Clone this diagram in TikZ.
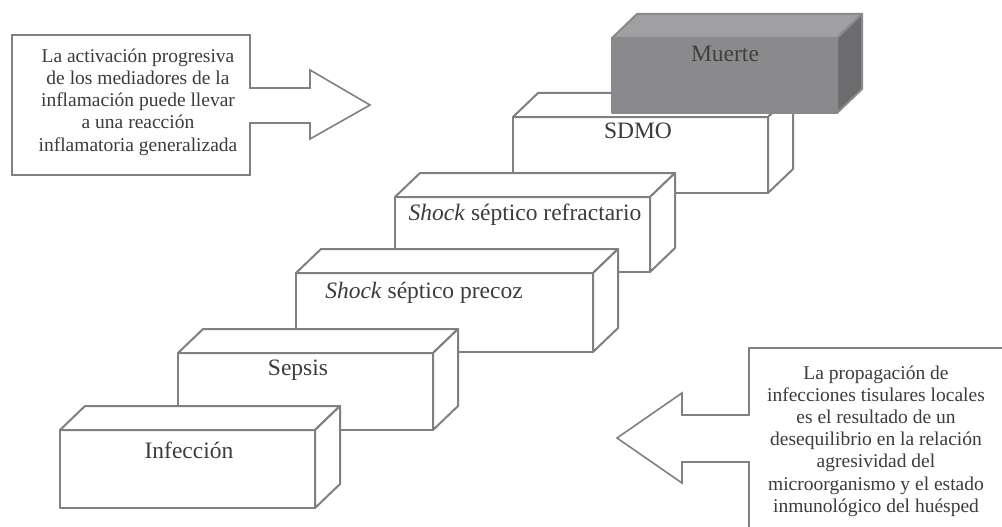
\documentclass[tikz,border=0pt]{standalone}
\usepackage{fontspec}
\setmainfont{Liberation Serif}
\usetikzlibrary{calc}
\definecolor{edgegray}{RGB}{128,128,128}
\definecolor{txtgray}{RGB}{60,60,60}
\definecolor{mfront}{RGB}{138,138,140}
\definecolor{mtop}{RGB}{160,160,162}
\definecolor{mside}{RGB}{108,108,110}
\tikzset{
  cubeline/.style={draw=edgegray, line width=2pt, line join=round},
  boxlabel/.style={text=txtgray, font=\fontsize{23.5}{26}\selectfont, inner sep=0pt, text height=0.7em, text depth=0.2em, anchor=center},
  callout/.style={draw=edgegray, line width=1.6pt, line join=miter},
  callouttext/.style={text=txtgray, font=\fontsize{19.5}{22.2}\selectfont, align=center, inner sep=0pt, anchor=center}
}
% #1 x1, #2 y1 (top), #3 x2, #4 y2 (bottom), #5 front fill, #6 top fill, #7 side fill, #8 edge colour
\newcommand\mycube[8]{%
  \filldraw[cubeline, draw=#8, fill=#5] (#1,#2) rectangle (#3,#4);
  \filldraw[cubeline, draw=#8, fill=#6] (#1,#2) -- ($(#1,#2)+(25,-24)$) -- ($(#3,#2)+(25,-24)$) -- (#3,#2) -- cycle;
  \filldraw[cubeline, draw=#8, fill=#7] (#3,#2) -- ($(#3,#2)+(25,-24)$) -- ($(#3,#4)+(25,-24)$) -- (#3,#4) -- cycle;
}
\begin{document}
\begin{tikzpicture}[x=1pt, y=-1pt]
\useasboundingbox[fill=white] (0,0) rectangle (1002,527);

% staircase, drawn from the back to the front
\mycube{513}{117}{768}{193}{white}{white}{white}{edgegray}
\node[boxlabel] (sdmo) at (638,136) {SDMO};

\mycube{612}{38}{837}{113}{mfront}{mtop}{mside}{mfront}
\node[boxlabel, text=black!75] (muerte) at (725,59) {Muerte};

\mycube{395}{197}{650}{272}{white}{white}{white}{edgegray}
\node[boxlabel] (refr) at (525,218) {\textit{Shock} séptico refractario};

\mycube{296}{273}{593}{352}{white}{white}{white}{edgegray}
\node[boxlabel] (precoz) at (424,296) {\textit{Shock} séptico precoz};

\mycube{178}{353}{433}{430}{white}{white}{white}{edgegray}
\node[boxlabel] (sepsis) at (298,373) {Sepsis};

\mycube{60}{430}{315}{508}{white}{white}{white}{edgegray}
\node[boxlabel] (infeccion) at (189,456) {Infección};

% left callout arrow
\draw[callout] (12,35) -- (250,35) -- (250,88) -- (310,88) -- (310,70) -- (370,105)
  -- (310,139) -- (310,123) -- (250,123) -- (250,175) -- (12,175) -- cycle;
\node[callouttext] (left) at (138,102) {La activación progresiva\\de los mediadores de la\\inflamación puede llevar\\a una reacción\\inflamatoria generalizada};

% right callout arrow (box runs off the picture)
\draw[callout] (1002,348) -- (749,348) -- (749,415) -- (682,415) -- (682,393) -- (617,438)
  -- (682,483) -- (682,462) -- (749,462) -- (749,527);
\node[callouttext] (right) at (876,441) {La propagación de\\infecciones tisulares locales\\es el resultado de un\\desequilibrio en la relación\\agresividad del\\microorganismo y el estado\\inmunológico del huésped};
\end{tikzpicture}
\end{document}
